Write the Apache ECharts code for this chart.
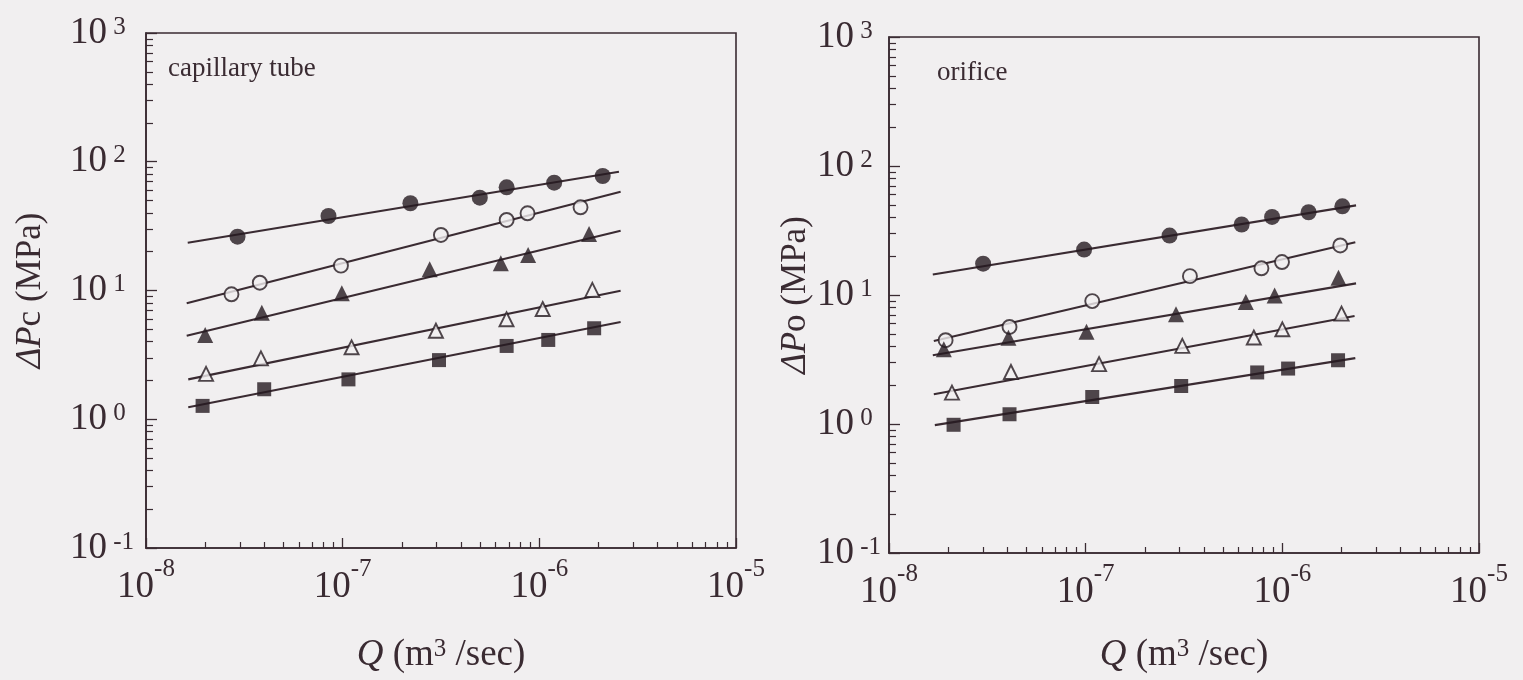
<!DOCTYPE html>
<html><head><meta charset="utf-8">
<script src="https://cdn.jsdelivr.net/npm/echarts@6/dist/echarts.min.js"></script>
<style>html,body{margin:0;padding:0;background:#f1eff0}#c{width:1523px;height:680px}</style>
</head><body><div id="c"></div>
<script>
// ---- tick values ----
const xMajorTicks = [1e-8, 1e-7, 1e-6, 1e-5];
const yMajorTicks = [0.1, 1, 10, 100, 1000];
const xMinorMultipliers = [2, 3, 4, 5, 6, 7, 8, 9];
const xDecades = [1e-8, 1e-7, 1e-6];
const yDecades = [0.1, 1, 10, 100];

// ---- capillary tube (left) ----
const capFilledCircleQ = [2.92e-8, 8.47e-8, 2.21e-7, 4.98e-7, 6.82e-7, 1.19e-6, 2.10e-6];
const capFilledCircleP = [26.2, 37.9, 47.6, 52.6, 63.3, 68.8, 77.5];
const capFilledCircleFitQ = [1.63e-8, 2.54e-6];
const capFilledCircleFitP = [23.5, 83.7];

const capOpenCircleQ = [2.72e-8, 3.79e-8, 9.8e-8, 3.16e-7, 6.82e-7, 8.71e-7, 1.62e-6];
const capOpenCircleP = [9.34, 11.5, 15.6, 27.0, 35.3, 39.8, 44.3];
const capOpenCircleFitQ = [1.61e-8, 2.59e-6];
const capOpenCircleFitP = [7.96, 58.5];

const capFilledTriQ = [2.0e-8, 3.88e-8, 9.9e-8, 2.77e-7, 6.37e-7, 8.77e-7, 1.79e-6];
const capFilledTriP = [4.51, 6.72, 9.51, 14.6, 16.3, 18.9, 27.5];
const capFilledTriFitQ = [1.61e-8, 2.59e-6];
const capFilledTriFitP = [4.45, 29.1];

const capOpenTriQ = [2.02e-8, 3.84e-8, 1.11e-7, 2.98e-7, 6.81e-7, 1.04e-6, 1.86e-6];
const capOpenTriP = [2.25, 2.97, 3.62, 4.87, 5.98, 7.18, 10.1];
const capOpenTriFitQ = [1.64e-8, 2.59e-6];
const capOpenTriFitP = [2.04, 9.96];

const capSquareQ = [1.94e-8, 3.99e-8, 1.07e-7, 3.09e-7, 6.82e-7, 1.11e-6, 1.90e-6];
const capSquareP = [1.27, 1.71, 2.04, 2.88, 3.71, 4.13, 5.09];
const capSquareFitQ = [1.64e-8, 2.59e-6];
const capSquareFitP = [1.24, 5.69];

// ---- orifice (right) ----
const oriFilledCircleQ = [3.01e-8, 9.82e-8, 2.67e-7, 6.21e-7, 8.87e-7, 1.36e-6, 2.02e-6];
const oriFilledCircleP = [17.5, 22.5, 28.9, 35.2, 40.3, 43.8, 48.7];
const oriFilledCircleFitQ = [1.67e-8, 2.37e-6];
const oriFilledCircleFitP = [14.4, 49.5];

const oriOpenCircleQ = [1.94e-8, 4.10e-8, 1.08e-7, 3.39e-7, 7.83e-7, 9.96e-7, 1.97e-6];
const oriOpenCircleP = [4.46, 5.65, 8.97, 14.0, 16.1, 18.0, 24.2];
const oriOpenCircleFitQ = [1.69e-8, 2.35e-6];
const oriOpenCircleFitP = [4.40, 25.6];

const oriFilledTriQ = [1.90e-8, 4.05e-8, 1.01e-7, 2.88e-7, 6.52e-7, 9.14e-7, 1.93e-6];
const oriFilledTriP = [3.80, 4.67, 5.20, 7.08, 8.81, 9.93, 13.6];
const oriFilledTriFitQ = [1.67e-8, 2.37e-6];
const oriFilledTriFitP = [3.41, 12.3];

const oriOpenTriQ = [2.09e-8, 4.17e-8, 1.17e-7, 3.10e-7, 7.16e-7, 1.0e-6, 2.0e-6];
const oriOpenTriP = [1.75, 2.53, 2.91, 4.03, 4.68, 5.42, 7.17];
const oriOpenTriFitQ = [1.69e-8, 2.33e-6];
const oriOpenTriFitP = [1.70, 6.87];

const oriSquareQ = [2.13e-8, 4.10e-8, 1.08e-7, 3.06e-7, 7.45e-7, 1.07e-6, 1.92e-6];
const oriSquareP = [0.986, 1.19, 1.62, 1.97, 2.51, 2.69, 3.12];
const oriSquareFitQ = [1.71e-8, 2.35e-6];
const oriSquareFitP = [0.98, 3.24];

// ---- style ----
const INK = '#3a2b32';
const MARK = '#261a20';
const BG = '#f1eff0';
const SERIF = "'Liberation Serif', 'DejaVu Serif', serif";

function minorsOf(decades) {
  const out = [];
  decades.forEach(d => xMinorMultipliers.forEach(m => out.push(+(d * m).toPrecision(6))));
  return out;
}
const xMinorTicks = minorsOf(xDecades);
const yMinorTicks = minorsOf(yDecades);

const zip = (a, b) => a.map((v, i) => [v, b[i]]);
const expOf = v => Math.round(Math.log10(v));

const xRich = {
  b: {fontSize: 37, fontFamily: SERIF, color: INK, lineHeight: 37, verticalAlign: 'bottom'},
  s: {fontSize: 25, fontFamily: SERIF, color: INK, lineHeight: 25, padding: [0, 0, 24, 0], verticalAlign: 'bottom'}
};
const yRich = {
  b: {fontSize: 37, fontFamily: SERIF, color: INK, lineHeight: 37, verticalAlign: 'top'},
  s: {fontSize: 25, fontFamily: SERIF, color: INK, lineHeight: 25, verticalAlign: 'top'}
};

function mainX(gridIndex, nameGap) {
  return {
    type: 'log', logBase: 10, gridIndex, min: 1e-8, max: 1e-5, position: 'bottom',
    axisLine: {show: true, lineStyle: {color: INK, width: 1.6}},
    axisTick: {show: true, inside: true, length: 10, customValues: xMajorTicks, lineStyle: {color: INK, width: 1.3}},
    axisLabel: {show: true, customValues: xMajorTicks, margin: 21, showMinLabel: true, showMaxLabel: true, hideOverlap: false,
      formatter: v => '{b|10}{s|' + expOf(v) + '}', rich: xRich},
    splitLine: {show: false},
    name: '{i|Q}{n| (m}{s|3}{n| /sec)}', nameLocation: 'middle', nameGap,
    nameTextStyle: {rich: {
      i: {fontSize: 37, fontFamily: SERIF, fontStyle: 'italic', color: INK, verticalAlign: 'bottom', lineHeight: 40},
      n: {fontSize: 37, fontFamily: SERIF, color: INK, verticalAlign: 'bottom', lineHeight: 40},
      s: {fontSize: 25, fontFamily: SERIF, color: INK, verticalAlign: 'bottom', lineHeight: 25, padding: [0, 0, 12, 0]}
    }}
  };
}
function minorX(gridIndex) {
  return {
    type: 'log', logBase: 10, gridIndex, min: 1e-8, max: 1e-5, position: 'bottom',
    axisLine: {show: false}, axisLabel: {show: false}, splitLine: {show: false},
    axisTick: {show: true, inside: true, length: 6, customValues: xMinorTicks, lineStyle: {color: INK, width: 1.2}}
  };
}
function mainY(gridIndex, labelMargin, nameText, nameGap) {
  return {
    type: 'log', logBase: 10, gridIndex, min: 0.1, max: 1000, position: 'left',
    axisLine: {show: true, lineStyle: {color: INK, width: 1.6}},
    axisTick: {show: true, inside: true, length: 11, customValues: yMajorTicks, lineStyle: {color: INK, width: 1.3}},
    axisLabel: {show: true, customValues: yMajorTicks, margin: labelMargin, align: 'left', showMinLabel: true, showMaxLabel: true, hideOverlap: false,
      formatter: v => '{b|10}{s| ' + expOf(v) + '}', rich: yRich},
    splitLine: {show: false},
    name: nameText, nameLocation: 'middle', nameGap, nameRotate: 90,
    nameTextStyle: {rich: {
      i: {fontSize: 35, fontFamily: SERIF, fontStyle: 'italic', color: INK},
      n: {fontSize: 35, fontFamily: SERIF, color: INK}
    }}
  };
}
function minorY(gridIndex) {
  return {
    type: 'log', logBase: 10, gridIndex, min: 0.1, max: 1000, position: 'left',
    axisLine: {show: false}, axisLabel: {show: false}, splitLine: {show: false},
    axisTick: {show: true, inside: true, length: 7, customValues: yMinorTicks, lineStyle: {color: INK, width: 1.2}}
  };
}

function markerSeries(ax, q, p, symbol, filled, size) {
  return {
    type: 'scatter', xAxisIndex: ax, yAxisIndex: ax, data: zip(q, p), symbol, symbolSize: size, z: 5,
    itemStyle: filled ? {color: MARK, borderColor: MARK, borderWidth: 0}
                      : {color: BG, borderColor: MARK, borderWidth: 1.9}
  };
}
function fitSeries(ax, q, p) {
  return {
    type: 'line', xAxisIndex: ax, yAxisIndex: ax, data: zip(q, p), showSymbol: false, symbol: 'none', z: 3,
    lineStyle: {color: INK, width: 2.1}, silent: true
  };
}

const series = [
  fitSeries(0, capFilledCircleFitQ, capFilledCircleFitP),
  fitSeries(0, capOpenCircleFitQ, capOpenCircleFitP),
  fitSeries(0, capFilledTriFitQ, capFilledTriFitP),
  fitSeries(0, capOpenTriFitQ, capOpenTriFitP),
  fitSeries(0, capSquareFitQ, capSquareFitP),
  markerSeries(0, capFilledCircleQ, capFilledCircleP, 'circle', true, 16),
  markerSeries(0, capOpenCircleQ, capOpenCircleP, 'circle', false, 14),
  markerSeries(0, capFilledTriQ, capFilledTriP, 'triangle', true, 16),
  markerSeries(0, capOpenTriQ, capOpenTriP, 'triangle', false, 14),
  markerSeries(0, capSquareQ, capSquareP, 'rect', true, 14),

  fitSeries(2, oriFilledCircleFitQ, oriFilledCircleFitP),
  fitSeries(2, oriOpenCircleFitQ, oriOpenCircleFitP),
  fitSeries(2, oriFilledTriFitQ, oriFilledTriFitP),
  fitSeries(2, oriOpenTriFitQ, oriOpenTriFitP),
  fitSeries(2, oriSquareFitQ, oriSquareFitP),
  markerSeries(2, oriFilledCircleQ, oriFilledCircleP, 'circle', true, 16),
  markerSeries(2, oriOpenCircleQ, oriOpenCircleP, 'circle', false, 14),
  markerSeries(2, oriFilledTriQ, oriFilledTriP, 'triangle', true, 16),
  markerSeries(2, oriOpenTriQ, oriOpenTriP, 'triangle', false, 14),
  markerSeries(2, oriSquareQ, oriSquareP, 'rect', true, 14)
];

const chart = echarts.init(document.getElementById('c'), null, {renderer: 'canvas'});
chart.setOption({
  backgroundColor: BG,
  animation: false,
  grid: [
    {left: 146, right: 787, top: 33, bottom: 132, show: true, borderColor: INK, borderWidth: 1.6, containLabel: false},
    {left: 889, right: 44, top: 37, bottom: 127, show: true, borderColor: INK, borderWidth: 1.6, containLabel: false}
  ],
  xAxis: [mainX(0, 86), minorX(0), mainX(1, 81), minorX(1)],
  yAxis: [
    mainY(0, 76, '{i|ΔP}{n|c (MPa)}', 98), minorY(0),
    mainY(1, 72, '{i|ΔP}{n|o (MPa)}', 72), minorY(1)
  ],
  graphic: [
    {type: 'text', left: 168, top: 55, style: {text: 'capillary tube', font: "27px 'Liberation Serif'", fill: INK}},
    {type: 'text', left: 937, top: 59, style: {text: 'orifice', font: "27px 'Liberation Serif'", fill: INK}}
  ],
  series
});
</script>
</body></html>
